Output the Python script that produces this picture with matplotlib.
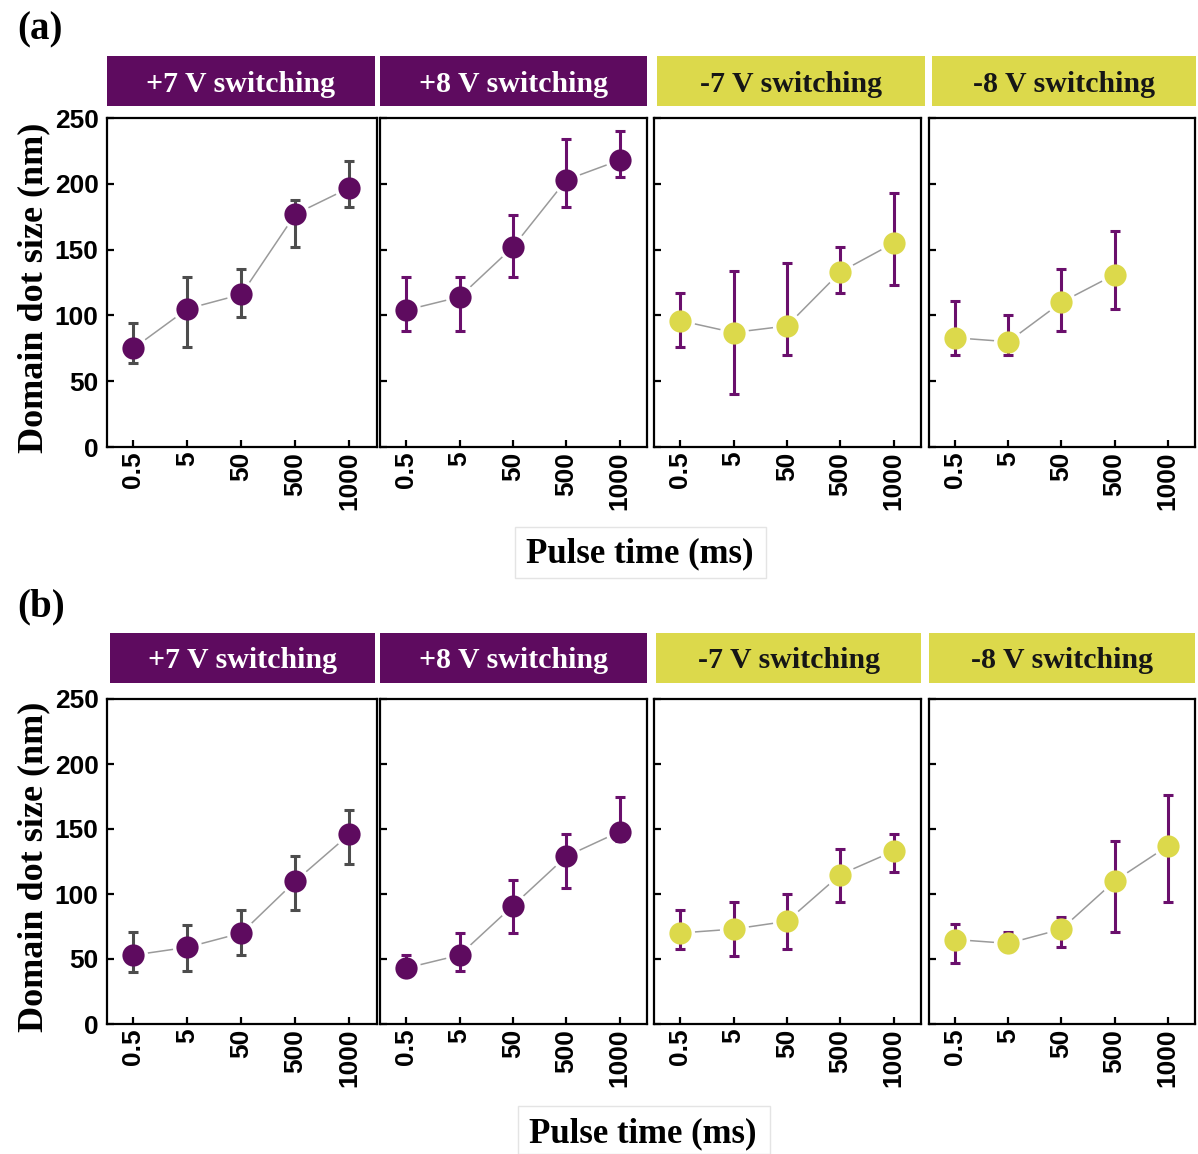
import numpy as np
import matplotlib
matplotlib.use("Agg")
import matplotlib.pyplot as plt
from matplotlib.patches import Rectangle

# ---------------- data ----------------
pulse_labels = ["0.5", "5", "50", "500", "1000"]
panel_titles = ["+7 V switching", "+8 V switching", "-7 V switching", "-8 V switching"]

# (a)
a_p7_mean = [75, 105, 116, 177, 197]
a_p7_low = [64, 76, 99, 152, 182]
a_p7_high = [94, 129, 135, 188, 217]

a_p8_mean = [104, 114, 152, 203, 218]
a_p8_low = [88, 88, 129, 182, 205]
a_p8_high = [129, 129, 176, 234, 240]

a_m7_mean = [96, 87, 92, 133, 155]
a_m7_low = [76, 40, 70, 117, 123]
a_m7_high = [117, 134, 140, 152, 193]

a_m8_mean = [83, 80, 110, 131, np.nan]
a_m8_low = [70, 70, 88, 105, np.nan]
a_m8_high = [111, 100, 135, 164, np.nan]

# (b)
b_p7_mean = [53, 59, 70, 110, 146]
b_p7_low = [40, 41, 53, 88, 123]
b_p7_high = [71, 76, 88, 129, 165]

b_p8_mean = [43, 53, 91, 129, 148]
b_p8_low = [37, 41, 70, 105, 141]
b_p8_high = [53, 70, 111, 146, 175]

b_m7_mean = [70, 73, 79, 115, 133]
b_m7_low = [58, 52, 58, 94, 117]
b_m7_high = [88, 94, 100, 135, 146]

b_m8_mean = [65, 62, 73, 110, 137]
b_m8_low = [47, 56, 59, 71, 94]
b_m8_high = [77, 71, 82, 141, 176]

rows = [
    [(a_p7_mean, a_p7_low, a_p7_high), (a_p8_mean, a_p8_low, a_p8_high),
     (a_m7_mean, a_m7_low, a_m7_high), (a_m8_mean, a_m8_low, a_m8_high)],
    [(b_p7_mean, b_p7_low, b_p7_high), (b_p8_mean, b_p8_low, b_p8_high),
     (b_m7_mean, b_m7_low, b_m7_high), (b_m8_mean, b_m8_low, b_m8_high)],
]
row_letters = ["(a)", "(b)"]

# ---------------- styles ----------------
PURPLE = "#5E0B5F"
YELLOW = "#DCD94B"
ERR_PURPLE = "#6A0F6C"
ERR_GRAY = "#4D4D4D"
marker_colors = [PURPLE, PURPLE, YELLOW, YELLOW]
header_colors = [PURPLE, PURPLE, YELLOW, YELLOW]
header_text_colors = ["white", "white", "#161616", "#161616"]
err_colors = [ERR_GRAY, ERR_PURPLE, ERR_PURPLE, ERR_PURPLE]

W, H = 1198, 1154
fig = plt.figure(figsize=(W / 100, H / 100), dpi=100)
fig.patch.set_facecolor("white")

SANS = ["Liberation Sans", "DejaVu Sans"]
SERIF = ["Liberation Serif", "DejaVu Serif"]


def px_rect(x0, y0, x1, y1):
    return [x0 / W, 1 - y1 / H, (x1 - x0) / W, (y1 - y0) / H]


axes_x = [(107, 377), (380, 647), (654, 921), (929, 1195)]
header_x = [[(107, 375), (380, 647), (657, 925), (932, 1196)],
            [(110, 375), (380, 647), (656, 921), (929, 1195)]]
axes_y = [(118, 447), (699, 1024)]
header_y = [(56, 106), (633, 683)]
letter_pos = [(17, 30), (17, 607)]
xlabel_pos = [(640, 554), (643, 1134)]
xlabel_box = [(515, 527, 766, 578), (518, 1106, 770, 1154)]
ylabel_x = 34

x = np.arange(len(pulse_labels))

for r in range(2):
    for c in range(4):
        mean, low, high = rows[r][c]
        mean = np.array(mean, dtype=float)
        low = np.array(low, dtype=float)
        high = np.array(high, dtype=float)
        x0, x1 = axes_x[c]
        y0, y1 = axes_y[r]
        ax = fig.add_axes(px_rect(x0, y0, x1, y1))
        ax.plot(x, mean, color="#9a9a9a", lw=1.1, zorder=1)
        ax.plot(x, mean, "o", ms=21, color="white", mec="none", zorder=2)
        ax.errorbar(x, mean, yerr=[mean - low, high - mean], fmt="none",
                    ecolor=err_colors[c], elinewidth=2.2, capsize=3.5,
                    capthick=2.2, zorder=3)
        ax.plot(x, mean, "o", ms=16, color=marker_colors[c], mec="none", zorder=4)
        ax.set_xlim(-0.49, 4.51)
        ax.set_ylim(0, 250)
        ax.set_xticks(x)
        ax.set_yticks([0, 50, 100, 150, 200, 250])
        ax.tick_params(direction="in", length=5, width=1.6, colors="black")
        ax.set_xticklabels(pulse_labels, rotation=90, fontsize=19,
                           fontweight="bold", family=SANS)
        if c == 0:
            ax.set_yticklabels([str(v) for v in [0, 50, 100, 150, 200, 250]],
                               fontsize=19, fontweight="bold", family=SANS)
            ax.tick_params(axis="y", pad=6)
        else:
            ax.set_yticklabels([])
        for s in ax.spines.values():
            s.set_linewidth(1.6)
            s.set_color("black")

        # header
        hx0, hx1 = header_x[r][c]
        hy0, hy1 = header_y[r]
        hax = fig.add_axes(px_rect(hx0, hy0, hx1, hy1))
        hax.set_facecolor(header_colors[c])
        hax.set_xticks([])
        hax.set_yticks([])
        for s in hax.spines.values():
            s.set_visible(False)
        hax.text(0.5, 0.44, panel_titles[c], transform=hax.transAxes,
                 ha="center", va="center", fontsize=21.5, fontweight="bold",
                 family=SERIF, color=header_text_colors[c])

    # row letter
    lx, ly = letter_pos[r]
    fig.text(lx / W, 1 - ly / H, row_letters[r], ha="left", va="center",
             fontsize=28, fontweight="bold", family=SERIF)
    # y label
    yc = (axes_y[r][0] + axes_y[r][1]) / 2 + 5
    fig.text(ylabel_x / W, 1 - yc / H, "Domain dot size (nm)", rotation=90,
             ha="center", va="center", fontsize=26, fontweight="bold", family=SERIF)
    # x label with faint box
    bx0, by0, bx1, by1 = xlabel_box[r]
    fig.patches.append(Rectangle((bx0 / W, 1 - by1 / H), (bx1 - bx0) / W, (by1 - by0) / H,
                                 transform=fig.transFigure, fill=False,
                                 edgecolor="#e4e4e4", lw=1.0))
    xx, xy = xlabel_pos[r]
    fig.text(xx / W, 1 - xy / H, "Pulse time (ms)", ha="center", va="center",
             fontsize=25, fontweight="bold", family=SERIF)

fig.savefig("out.png", dpi=100, facecolor="white")
